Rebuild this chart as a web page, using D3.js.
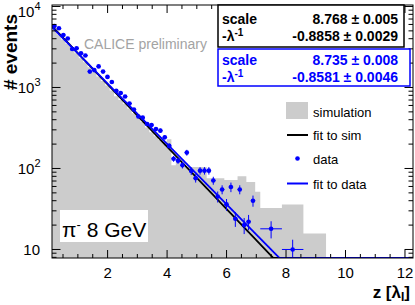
<!DOCTYPE html>
<html><head><meta charset="utf-8">
<script src="https://cdn.jsdelivr.net/npm/d3@7"></script>
<style>
body{margin:0;background:#fff}
svg{display:block}
text{font-family:"Liberation Sans",Arial,Helvetica,sans-serif}
</style>
</head><body>
<svg id="c" width="415" height="305"></svg>
<script>
// ---- data ----
const binEdges=[0.13,0.289,0.438,0.586,0.734,0.883,1.031,1.179,1.328,1.476,1.624,1.772,1.921,2.069,2.217,2.366,2.514,2.662,2.811,2.959,3.107,3.255,3.404,3.552,3.700,3.849,3.997,4.145,4.294,4.442,4.590,4.738,4.887,5.035,5.183,5.332,5.480,5.628,5.777,5.925,6.073,6.221,6.370,6.518,6.666,6.815,6.963,7.134,7.862,8.584,9.346];
const simValues=[5100,4500,3900,3450,3000,2650,2300,2050,1780,1560,1370,1200,1060,920,780,700,630,550,480,420,375,320,280,250,225,215,230,110,120,104,104,104,104,104,104,76,76,76,76,72,72,72,80,80,68,68,51.5,32.6,35.9,15.8];
const dataBins=[0,1,2,3,4,5,6,7,8,9,10,11,12,13,14,15,16,17,18,19,20,21,22,23,24,25,26,27,28,29,30,31,32,33,34,35,36,37,38,39,40,41,42,43,44,45,47,48];
const dataCounts=[5740,5380,4450,4030,2990,3050,2640,2480,1570,1640,1820,1570,1350,1170,910,855,774,634,535,438,424,354,344,307,293,243,190,132,125,110,157,93,76,94,94,94,71,45,55,36,59,24,55,20,22,40,18,10];
const dataErrors=[76,73,67,63,55,55,51,50,40,41,43,40,37,34,30,29,28,25,23,21,21,19,19,18,17,16,14,11,11,10,13,10,9,10,10,10,8,7,7,6,8,5,7,4.5,4.7,6.3,4.3,3.2];
const fitNames=["fit to sim","fit to data"];
const fitColors=["#000000","#0000ff"];
const fitScale=[8.768,8.735];
const fitScaleErr=[0.005,0.008];
const fitSlope=[-0.8858,-0.8581];
const fitSlopeErr=[0.0029,0.0046];
const xTicks=[2,4,6,8,10,12];
const yTicks=[10,100,1000,10000];
const yExp=["","2","3","4"];

// ---- layout ----
const L=52,R=413,T=5,B=258;
const svg=d3.select("#c");
const x=d3.scaleLinear().domain([0.13,12.27]).range([L,R]);
const y=d3.scaleLog().domain([7.85,10430]).range([B,T]);
const yMin=y.domain()[0];
const blue="#0000ff";

svg.append("defs").append("clipPath").attr("id","clip")
  .append("rect").attr("x",L).attr("y",T).attr("width",R-L).attr("height",B-T);
const plot=svg.append("g").attr("clip-path","url(#clip)");

// simulation histogram
const histPts=[];
simValues.forEach((v,k)=>{histPts.push([binEdges[k],v]);histPts.push([binEdges[k+1],v]);});
plot.append("path").datum(histPts)
  .attr("fill","#cccccc")
  .attr("d",d3.area().x(d=>x(d[0])).y0(B).y1(d=>y(d[1])));

// pi label box
svg.append("rect").attr("x",60).attr("y",210).attr("width",88).attr("height",32).attr("fill","#fff");
const pl=svg.append("text").attr("x",62).attr("y",236.5).attr("font-size",21).attr("fill","#000");
pl.append("tspan").text("π");
pl.append("tspan").attr("font-size",13).attr("dy",-8).text("-");
pl.append("tspan").attr("dy",8).text(" 8 GeV");

// fit lines
const zs=d3.range(0.13,12.3,0.01);
[0,1].forEach(i=>{
  plot.append("path").datum(zs)
    .attr("fill","none").attr("stroke",fitColors[i]).attr("stroke-width",1.8)
    .attr("d",d3.line().x(z=>x(z)).y(z=>y(Math.max(yMin,Math.exp(fitScale[i]+fitSlope[i]*z)))));
});

// data points
const dg=plot.append("g");
dataCounts.forEach((n,i)=>{
  const b=dataBins[i];
  const lo=binEdges[b],hi=binEdges[b+1],zc=(lo+hi)/2;
  const e=dataErrors[i];
  dg.append("line").attr("x1",x(zc)).attr("x2",x(zc)).attr("y1",y(n+e)).attr("y2",y(Math.max(1,n-e)))
    .attr("stroke",blue).attr("stroke-width",1);
  dg.append("line").attr("x1",x(lo)).attr("x2",x(hi)).attr("y1",y(n)).attr("y2",y(n))
    .attr("stroke",blue).attr("stroke-width",1);
  dg.append("circle").attr("cx",x(zc)).attr("cy",y(n)).attr("r",2.3).attr("fill",blue);
});

// frame & ticks
const ax=svg.append("g").attr("stroke","#000").attr("stroke-width",1);
ax.append("rect").attr("x",L).attr("y",T).attr("width",R-L).attr("height",B-T).attr("fill","none");
const xMinor=d3.range(0.5,12.3,0.5);
xMinor.forEach(v=>{
  const major=xTicks.includes(v);
  const len=major?8:4;
  ax.append("line").attr("x1",x(v)).attr("x2",x(v)).attr("y1",B).attr("y2",B-len);
  ax.append("line").attr("x1",x(v)).attr("x2",x(v)).attr("y1",T).attr("y2",T+len);
});
const yMinorVals=[];
[1,10,100,1000].forEach(d=>{for(let m=2;m<=9;m++){const v=m*d;if(v>=yMin&&v<=y.domain()[1])yMinorVals.push(v);}});
yMinorVals.forEach(v=>{
  ax.append("line").attr("x1",L).attr("x2",L+4.5).attr("y1",y(v)).attr("y2",y(v));
  ax.append("line").attr("x1",R).attr("x2",R-4.5).attr("y1",y(v)).attr("y2",y(v));
});
yTicks.forEach(v=>{
  ax.append("line").attr("x1",L).attr("x2",L+8.5).attr("y1",y(v)).attr("y2",y(v));
  ax.append("line").attr("x1",R).attr("x2",R-8.5).attr("y1",y(v)).attr("y2",y(v));
});

// tick labels
xTicks.forEach(v=>{
  svg.append("text").attr("x",x(v)).attr("y",278).attr("text-anchor","middle").attr("font-size",15).text(v);
});
yTicks.forEach((v,i)=>{
  const yy=i===3?16.5:y(v)+5.5;
  const t=svg.append("text").attr("x",i===0?40:40.5).attr("y",yy).attr("text-anchor","end").attr("font-size",15);
  t.append("tspan").text("10");
  if(yExp[i]){t.append("tspan").attr("font-size",11).attr("dy",-7).text(yExp[i]);}
});

// axis titles
const xt=svg.append("text").attr("x",410).attr("y",297.5).attr("text-anchor","end").attr("font-size",17).attr("font-weight","bold");
xt.append("tspan").text("z [λ");
xt.append("tspan").attr("font-size",12).attr("dy",3).text("I");
xt.append("tspan").attr("dy",-3).text("]");
svg.append("text").attr("transform","translate(17,14) rotate(-90)").attr("text-anchor","end")
  .attr("font-size",19).attr("font-weight","bold").text("# events");

// CALICE preliminary
svg.append("text").attr("x",84).attr("y",49).attr("font-size",14).attr("fill","#a3a3a3").text("CALICE preliminary");

// stats boxes
const fmt3=d3.format(".3f"),fmt4=d3.format(".4f");
const boxes=[{x:218,y:5,w:186,h:42,b1:24,b2:40.5},{x:218,y:49,w:192,h:37,b1:65,b2:81.5}];
boxes.forEach((bx,i)=>{
  const c=fitColors[i];
  svg.append("rect").attr("x",bx.x).attr("y",bx.y).attr("width",bx.w).attr("height",bx.h)
    .attr("fill","#fff").attr("stroke",c).attr("stroke-width",1.5);
  const g=svg.append("g").attr("fill",c).attr("font-size",14).attr("font-weight","bold");
  g.append("text").attr("x",222).attr("y",bx.b1).text("scale");
  const l2=g.append("text").attr("x",222).attr("y",bx.b2);
  l2.append("tspan").text("-λ");
  l2.append("tspan").attr("font-size",10).attr("dy",-5).text("-1");
  g.append("text").attr("x",398).attr("y",bx.b1).attr("text-anchor","end")
    .text(fmt3(fitScale[i])+" ± "+fmt3(fitScaleErr[i]));
  g.append("text").attr("x",398).attr("y",bx.b2).attr("text-anchor","end")
    .text(fmt4(fitSlope[i]).replace("−","-")+" ± "+fmt4(fitSlopeErr[i]));
});

// legend
const lg=svg.append("g");
lg.append("rect").attr("x",286).attr("y",102).attr("width",22).attr("height",17).attr("fill","#cccccc");
lg.append("line").attr("x1",287).attr("x2",308).attr("y1",135).attr("y2",135).attr("stroke","#000").attr("stroke-width",2);
lg.append("circle").attr("cx",297.5).attr("cy",158.5).attr("r",2.3).attr("fill",blue);
lg.append("line").attr("x1",287).attr("x2",308).attr("y1",183.5).attr("y2",183.5).attr("stroke",blue).attr("stroke-width",2);
const legLabels=["simulation",fitNames[0],"data",fitNames[1]];
const legY=[116.5,140,164,189];
legLabels.forEach((s,i)=>{
  lg.append("text").attr("x",313).attr("y",legY[i]).attr("font-size",13).text(s);
});
</script>
</body></html>
